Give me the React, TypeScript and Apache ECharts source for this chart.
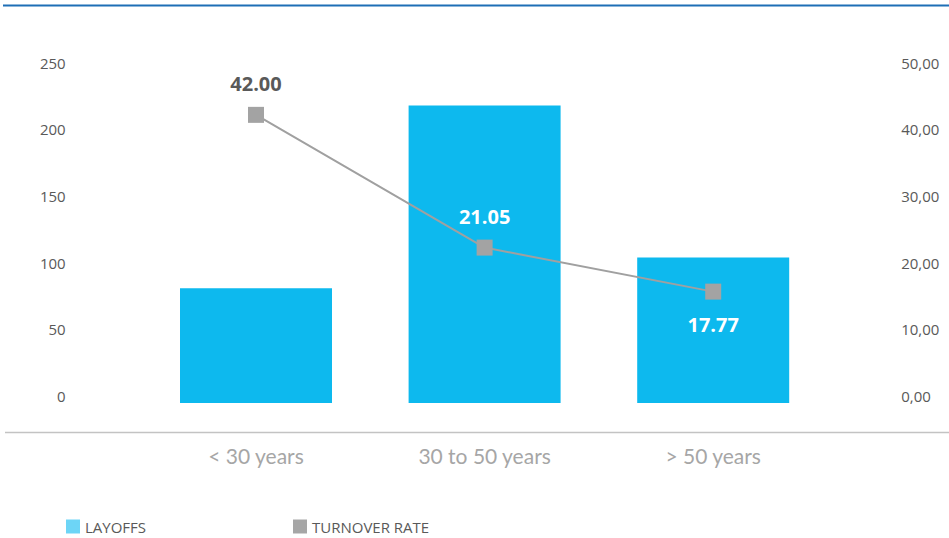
import React, { useEffect, useRef } from "react";
import * as echarts from "echarts";

const categories = ["< 30 years", "30 to 50 years", "> 50 years"];
const layoffs = [86, 223, 109];
const turnoverRate = [43.2, 23.3, 16.7];
const turnoverLabels = ["42.00", "21.05", "17.77"];
const leftTicks = [0, 50, 100, 150, 200, 250];
const rightTicks = [0, 10, 20, 30, 40, 50];

const FONT = "'Open Sans', sans-serif";

export default function App() {
  const ref = useRef<HTMLDivElement>(null);
  useEffect(() => {
    if (!ref.current) return;
    const chart = echarts.init(ref.current, null, { renderer: "svg" });
    const labelPos = ["top", "top", "bottom"];
    const labelColor = ["#595959", "#ffffff", "#ffffff"];
    const labelDist = [13, 13, 15];
    const tickRich = {
      t: {
        color: "#595959",
        fontSize: 15,
        fontFamily: FONT,
        padding: [0, 0, 14, 0],
      },
    };
    chart.setOption({
      animation: false,
      backgroundColor: "#ffffff",
      grid: { left: 141.7, right: 121.5, top: 69.5, bottom: 135 },
      legend: [
        {
          data: ["LAYOFFS"],
          left: 66,
          top: 519,
          padding: 0,
          icon: "rect",
          itemWidth: 14,
          itemHeight: 14,
          itemStyle: { color: "#6DD5F6" },
          textStyle: { color: "#595959", fontSize: 15, fontFamily: FONT },
        },
        {
          data: ["TURNOVER RATE"],
          left: 293,
          top: 519,
          padding: 0,
          icon: "rect",
          itemWidth: 14,
          itemHeight: 14,
          itemStyle: { color: "#A6A6A6" },
          textStyle: { color: "#595959", fontSize: 15, fontFamily: FONT },
        },
      ],
      xAxis: {
        type: "category",
        data: categories,
        axisLine: { show: false },
        axisTick: { show: false },
        axisLabel: {
          margin: 42,
          color: "#A6A6A6",
          fontSize: 21,
          fontFamily: "Lato, sans-serif",
        },
      },
      yAxis: [
        {
          type: "value",
          min: leftTicks[0],
          max: leftTicks[leftTicks.length - 1],
          interval: 50,
          splitLine: { show: false },
          axisLine: { show: false },
          axisTick: { show: false },
          axisLabel: {
            margin: 76,
            formatter: (v: number) => "{t|" + v + "}",
            rich: tickRich,
          },
        },
        {
          type: "value",
          min: rightTicks[0],
          max: rightTicks[rightTicks.length - 1],
          interval: 10,
          splitLine: { show: false },
          axisLine: { show: false },
          axisTick: { show: false },
          axisLabel: {
            margin: 73.7,
            formatter: (v: number) =>
              "{t|" + v.toFixed(2).replace(".", ",") + "}",
            rich: tickRich,
          },
        },
      ],
      series: [
        {
          name: "LAYOFFS",
          type: "bar",
          data: layoffs,
          barWidth: 152,
          itemStyle: { color: "#0DB9EE" },
          yAxisIndex: 0,
        },
        {
          name: "TURNOVER RATE",
          type: "line",
          yAxisIndex: 1,
          symbol: "rect",
          symbolSize: 16,
          lineStyle: { color: "#A0A0A0", width: 2 },
          itemStyle: { color: "#A3A3A3" },
          label: {
            show: true,
            fontSize: 20,
            fontWeight: "bold",
            fontFamily: FONT,
            formatter: (p: any) => turnoverLabels[p.dataIndex],
          },
          data: turnoverRate.map((v, i) => ({
            value: v,
            label: {
              position: labelPos[i],
              color: labelColor[i],
              distance: labelDist[i],
            },
          })),
        },
      ],
      graphic: [
        {
          type: "line",
          shape: { x1: 3, y1: 5.5, x2: 949, y2: 5.5 },
          style: { stroke: "#1E6FB6", lineWidth: 2 },
        },
        {
          type: "line",
          shape: { x1: 5, y1: 432.5, x2: 949, y2: 432.5 },
          style: { stroke: "#C3C3C3", lineWidth: 1.5 },
        },
      ],
    });
    return () => chart.dispose();
  }, []);
  return (
    <div
      ref={ref}
      style={{ position: "fixed", left: 0, top: 0, width: 949, height: 538 }}
    />
  );
}
